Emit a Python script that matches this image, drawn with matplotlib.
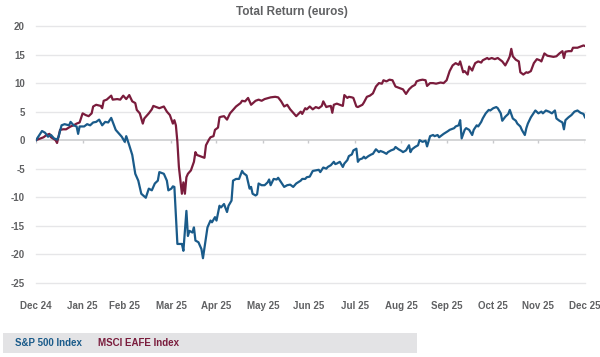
import numpy as np
import pandas as pd
import matplotlib
matplotlib.use("Agg")
import matplotlib.pyplot as plt
from matplotlib.patches import Rectangle

matplotlib.rcParams["font.family"] = ["Liberation Sans", "DejaVu Sans"]

START = pd.Timestamp("2024-12-31")

# days after 31 Dec 2024, total return in %
sp_day = [0, 4, 6, 8, 10, 12, 14, 15, 17, 19, 22, 23, 25, 27, 28, 29, 32, 34, 36, 38,
          40, 42, 44, 46, 48, 50, 53, 55, 57, 59, 60, 62, 64, 66, 68, 70, 73, 75, 77, 79,
          81, 82, 85, 87, 88, 90, 91, 92, 94, 96, 97, 98, 100, 101, 102, 104, 105, 106, 108, 110,
          111, 113, 114, 116, 117, 119, 120, 122, 123, 125, 127, 128, 130, 131, 133, 135, 137, 138, 140, 142,
          143, 144, 146, 147, 148, 150, 152, 154, 155, 156, 158, 160, 161, 163, 165, 167, 169, 171, 173, 176,
          177, 179, 180, 182, 184, 186, 188, 189, 191, 193, 194, 196, 198, 199, 200, 202, 204, 205, 207, 208,
          210, 211, 213, 214, 215, 217, 218, 219, 221, 223, 224, 226, 228, 229, 231, 233, 234, 236, 238, 239,
          241, 243, 244, 246, 248, 249, 250, 252, 254, 255, 257, 259, 260, 262, 264, 265, 267, 268, 270, 271,
          274, 275, 278, 279, 281, 282, 283, 285, 286, 288, 290, 291, 293, 294, 296, 297, 299, 301, 302, 304,
          306, 307, 309, 310, 312, 314, 315, 317, 319, 320, 322, 323, 325, 326, 327, 329, 331, 332, 334, 336,
          337, 339, 341, 343, 345, 346, 348, 350, 351, 352, 354, 356, 358, 360, 362, 364, 365]
sp_ret = [0.0, 1.6, 1.3, 0.6, 0.9, 0.3, 0.1, 0.6, 2.6, 2.8, 2.6, 3.2, 2.6, 2.4, 1.1, 2.4, 2.4, 2.8, 2.6, 3.1,
          3.2, 3.6, 2.6, 3.2, 3.1, 3.9, 1.8, 1.2, 0.6, -0.3, 0.7, -0.9, -2.6, -5.9, -7.1, -9.4, -10.1, -8.5, -8.8, -7.6,
          -7.1, -5.6, -5.9, -7.1, -8.8, -8.5, -8.1, -8.2, -18.2, -18.2, -18.2, -19.4, -12.4, -16.8, -15.9, -16.2, -15.3, -17.6, -17.9, -19.1,
          -20.7, -17.1, -15.3, -14.1, -14.4, -13.5, -14.1, -11.5, -11.8, -11.2, -12.6, -11.5, -10.6, -7.1, -6.8, -6.8, -5.4, -5.8, -6.2, -8.5,
          -8.2, -9.4, -9.7, -9.5, -7.6, -7.9, -7.9, -7.4, -6.9, -7.9, -6.8, -6.9, -6.6, -7.4, -8.2, -7.9, -7.8, -8.2, -7.6, -7.1,
          -6.8, -6.8, -6.5, -6.4, -5.4, -5.3, -5.2, -5.6, -4.8, -5.0, -4.7, -4.4, -3.8, -4.2, -4.1, -3.8, -4.7, -4.1, -3.5, -2.8,
          -2.5, -1.8, -1.5, -3.8, -3.4, -3.2, -2.9, -3.2, -2.8, -2.5, -2.4, -1.6, -2.1, -1.9, -2.1, -2.4, -2.1, -1.8, -1.6, -1.2,
          -1.6, -1.9, -2.1, -1.8, -0.9, -2.1, -1.6, -1.2, -0.9, 0.0, -0.3, -0.1, -1.1, 0.7, 0.9, 0.7, 0.9, 0.5, 0.9, 1.1,
          1.6, 1.8, 2.1, 2.4, 2.6, 3.5, 0.3, 1.8, 2.1, 1.8, 0.9, 1.8, 2.6, 2.4, 3.2, 3.8, 4.7, 5.3, 5.2, 5.6,
          5.8, 5.6, 4.7, 3.4, 4.1, 4.6, 5.3, 3.8, 3.4, 2.9, 2.4, 1.8, 0.9, 2.1, 2.9, 4.0, 4.8, 5.2, 4.7, 5.0,
          4.7, 5.2, 5.0, 4.7, 5.2, 3.8, 3.4, 3.1, 1.9, 3.5, 4.0, 4.4, 5.0, 5.2, 4.8, 4.6, 4.0]

eafe_day = [0, 3, 5, 7, 9, 10, 13, 14, 16, 18, 20, 23, 25, 27, 29, 31, 33, 35, 37, 38,
            40, 43, 44, 45, 47, 50, 51, 54, 56, 58, 60, 62, 64, 66, 67, 69, 71, 72, 75, 77,
            78, 80, 82, 85, 87, 89, 91, 92, 93, 94, 95, 96, 97, 98, 99, 100, 101, 103, 105, 106,
            107, 109, 110, 112, 113, 115, 116, 118, 119, 121, 122, 123, 125, 127, 129, 131, 133, 136, 137, 139,
            141, 143, 146, 148, 150, 152, 156, 159, 161, 163, 165, 167, 169, 171, 173, 176, 177, 179, 180, 182,
            184, 186, 188, 190, 191, 193, 194, 196, 197, 198, 200, 202, 204, 205, 207, 208, 210, 211, 213, 214,
            217, 218, 220, 222, 224, 226, 228, 230, 231, 233, 235, 237, 239, 240, 242, 244, 246, 248, 250, 252,
            253, 255, 257, 259, 260, 262, 264, 266, 269, 271, 273, 275, 277, 279, 281, 282, 284, 285, 287, 288,
            290, 291, 292, 294, 296, 297, 300, 301, 303, 305, 307, 310, 312, 314, 315, 316, 317, 319, 321, 322,
            324, 326, 327, 329, 331, 333, 335, 336, 338, 340, 342, 344, 346, 348, 350, 351, 352, 354, 356, 357,
            360, 362, 364, 365]
eafe_ret = [0.0, 0.3, 0.5, 0.9, 1.1, 0.5, 0.0, -0.5, 1.8, 1.9, 1.9, 2.4, 2.6, 2.9, 3.1, 4.7, 4.4, 4.2, 4.7, 5.9,
            6.2, 6.0, 5.6, 6.9, 7.1, 7.8, 7.1, 7.2, 7.1, 7.8, 7.2, 7.9, 6.8, 6.5, 5.3, 4.7, 2.9, 3.8, 4.7, 5.4,
            6.0, 5.8, 5.6, 5.9, 5.0, 4.4, 2.9, 3.5, 2.6, -0.3, -4.7, -7.1, -9.4, -7.4, -9.4, -6.5, -5.9, -5.3, -3.8, -2.1,
            -2.6, -2.8, -2.9, -3.1, -0.9, 0.1, 0.5, 0.7, 1.8, 2.2, 4.0, 4.1, 4.2, 3.6, 4.7, 5.3, 5.9, 6.5, 6.9, 6.8,
            7.4, 6.2, 6.9, 7.1, 6.9, 7.2, 7.5, 7.6, 7.5, 6.8, 5.9, 6.2, 5.4, 4.8, 4.2, 5.0, 4.6, 5.6, 5.4, 5.9,
            5.4, 5.8, 5.6, 6.0, 6.8, 5.8, 5.9, 6.0, 4.8, 6.2, 6.4, 6.2, 6.0, 7.9, 7.4, 7.6, 7.5, 7.4, 5.9, 5.8,
            6.2, 6.6, 7.6, 7.8, 8.2, 9.4, 10.0, 9.9, 10.5, 10.3, 10.6, 10.5, 9.4, 9.3, 9.1, 8.9, 8.1, 8.9, 9.4, 9.7,
            10.3, 10.5, 10.6, 10.5, 9.5, 10.0, 10.0, 9.9, 10.1, 10.0, 10.5, 12.1, 13.1, 13.5, 13.2, 13.8, 11.9, 12.1, 11.5, 12.9,
            12.2, 12.9, 13.5, 13.8, 13.6, 14.0, 14.4, 14.2, 14.4, 14.2, 14.4, 13.8, 13.1, 14.1, 14.7, 16.0, 14.7, 14.1, 13.8, 11.9,
            11.5, 11.9, 11.8, 12.1, 13.5, 14.2, 14.0, 13.8, 15.2, 14.8, 14.7, 14.6, 14.7, 15.2, 15.6, 14.4, 15.5, 15.6, 15.6, 16.2,
            16.2, 16.4, 16.6, 16.5]

tick_dates = pd.date_range("2024-12-31", "2025-12-31", freq="ME")
tick_labels = [d.strftime("%b %y") for d in tick_dates]
y_ticks = [20, 15, 10, 5, 0, -5, -10, -15, -20, -25]

series_names = ["S&P 500 Index", "MSCI EAFE Index"]
BLUE = "#1a5b8a"
RED = "#7a1c3c"
TEXT = "#606163"

sp_x = START + pd.to_timedelta(sp_day, unit="D")
eafe_x = START + pd.to_timedelta(eafe_day, unit="D")

fig = plt.figure(figsize=(6.0, 3.57), dpi=100)
ax = fig.add_axes([0.06, 0.208, 0.915, 0.719])

for v in y_ticks:
    ax.axhline(v, color="#c9cacc" if v == 0 else "#e6e6e8", lw=1.1 if v == 0 else 1.0,
               zorder=1, clip_on=False)
ax.vlines(tick_dates, -0.55, 0, color="#c9cacc", lw=1.0, zorder=1)

ax.plot(eafe_x, eafe_ret, color=RED, lw=1.6, zorder=3)
ax.plot(sp_x, sp_ret, color=BLUE, lw=1.6, zorder=3)

ax.set_xlim(tick_dates[0], tick_dates[-1])
ax.set_ylim(-25, 20)
ax.set_yticks(y_ticks)
ax.set_yticklabels([str(v) for v in y_ticks])
ax.set_xticks(tick_dates)
ax.set_xticklabels(tick_labels)
ax.tick_params(axis="both", length=0, labelsize=7, labelcolor=TEXT)
ax.tick_params(axis="x", pad=13)
ax.tick_params(axis="y", pad=8)
for lab in ax.get_xticklabels() + ax.get_yticklabels():
    lab.set_fontweight("bold")
for s in ax.spines.values():
    s.set_visible(False)

fig.text(0.487, 0.965, "Total Return (euros)", ha="center", va="center",
         fontsize=8.5, fontweight="bold", color=TEXT)

# legend strip
fig.patches.append(Rectangle((0.005, 0.012), 0.69, 0.056, transform=fig.transFigure,
                             facecolor="#e3e3e5", edgecolor="none"))
fig.text(0.025, 0.04, series_names[0], ha="left", va="center", fontsize=7,
         fontweight="bold", color=BLUE)
fig.text(0.163, 0.04, series_names[1], ha="left", va="center", fontsize=7,
         fontweight="bold", color=RED)

fig.savefig("out.png", dpi=100)
